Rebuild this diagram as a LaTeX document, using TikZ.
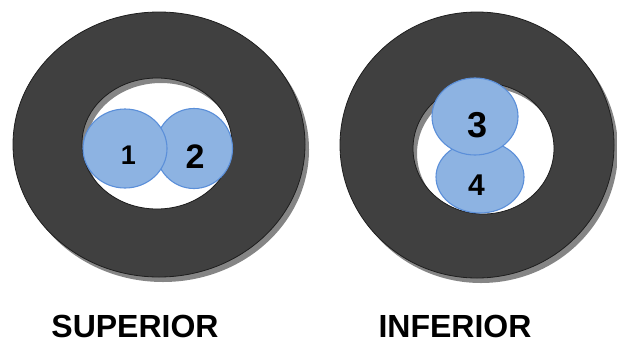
\documentclass[tikz,border=0pt]{standalone}
\usepackage{fontspec}
\setmainfont{Liberation Sans}
\usetikzlibrary{shapes.geometric}
\definecolor{ringgray}{HTML}{404040}
\definecolor{ringedge}{HTML}{1E1E1E}
\definecolor{shadowgray}{HTML}{858585}
\definecolor{bubblefill}{HTML}{8DB3E2}
\definecolor{bubbleedge}{HTML}{5B8FD9}
\tikzset{
  ringshadow/.style={fill=shadowgray, even odd rule},
  ringbody/.style={fill=ringgray, draw=ringedge, line width=0.8pt, even odd rule},
  bubble/.style={ellipse, fill=bubblefill, draw=bubbleedge, line width=1.1pt, inner sep=0pt},
  digit/.style={inner sep=0pt, font=\bfseries\fontsize{#1}{#1}\selectfont},
  caption/.style={inner sep=0pt, font=\bfseries\fontsize{32}{32}\selectfont}
}
\begin{document}
\begin{tikzpicture}[x=1pt,y=-1pt]
\useasboundingbox (0,0) rectangle (617,343);

% left ring: shadow, then the dark annulus
\path[ringshadow] (163,149.5) ellipse [x radius=146, y radius=132.5]
                  (161,148.5) ellipse [x radius=75, y radius=65.5];
\path[ringbody] (159,144.5) ellipse [x radius=146, y radius=132.5]
                (157,143.5) ellipse [x radius=75, y radius=65.5];

% right ring: shadow, then the dark annulus
\path[ringshadow] (481,150) ellipse [x radius=137, y radius=133]
                  (487.5,153.5) ellipse [x radius=70.5, y radius=65.5];
\path[ringbody] (477,145) ellipse [x radius=137, y radius=133]
                (483.5,148.5) ellipse [x radius=70.5, y radius=65.5];

% bubbles in the left ring
\node[bubble, minimum width=77pt, minimum height=80pt] (b2) at (194,148.5) {};
\node[bubble, minimum width=84pt, minimum height=79pt] (b1) at (125,148.5) {};
\node[digit=27] (n1) at (128.5,155) {1};
\node[digit=34] (n2) at (195,157) {2};

% bubbles in the right ring
\node[bubble, minimum width=88pt, minimum height=72pt] (b4) at (480,177) {};
\node[bubble, minimum width=86pt, minimum height=77pt] (b3) at (475,116.5) {};
\node[digit=36] (n3) at (478,125) {3};
\node[digit=30] (n4) at (476.5,185.5) {4};

% captions
\node[caption] (sup) at (135,326.5) {SUPERIOR};
\node[caption] (inf) at (455,326.5) {INFERIOR};
\end{tikzpicture}
\end{document}
